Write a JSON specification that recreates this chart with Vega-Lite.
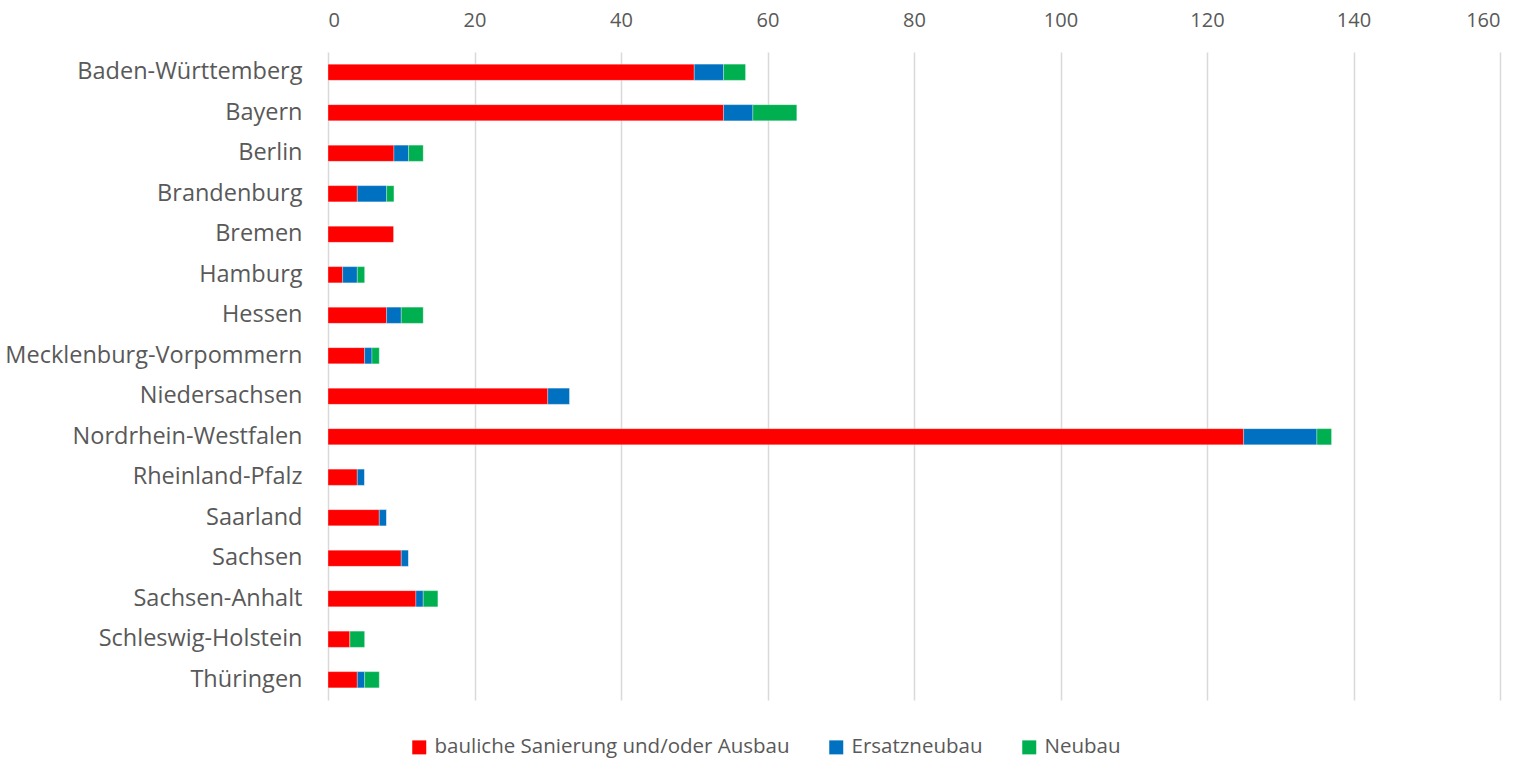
{
  "$schema": "https://vega.github.io/schema/vega-lite/v6.json",
  "autosize": "none",
  "width": 1172,
  "height": 648,
  "padding": {"left": 328, "top": 52, "right": 38, "bottom": 59},
  "background": "white",
  "data": {"values": [
    {"land": "Baden-Württemberg", "typ": "bauliche Sanierung und/oder Ausbau", "anzahl": 50},
    {"land": "Baden-Württemberg", "typ": "Ersatzneubau", "anzahl": 4},
    {"land": "Baden-Württemberg", "typ": "Neubau", "anzahl": 3},
    {"land": "Bayern", "typ": "bauliche Sanierung und/oder Ausbau", "anzahl": 54},
    {"land": "Bayern", "typ": "Ersatzneubau", "anzahl": 4},
    {"land": "Bayern", "typ": "Neubau", "anzahl": 6},
    {"land": "Berlin", "typ": "bauliche Sanierung und/oder Ausbau", "anzahl": 9},
    {"land": "Berlin", "typ": "Ersatzneubau", "anzahl": 2},
    {"land": "Berlin", "typ": "Neubau", "anzahl": 2},
    {"land": "Brandenburg", "typ": "bauliche Sanierung und/oder Ausbau", "anzahl": 4},
    {"land": "Brandenburg", "typ": "Ersatzneubau", "anzahl": 4},
    {"land": "Brandenburg", "typ": "Neubau", "anzahl": 1},
    {"land": "Bremen", "typ": "bauliche Sanierung und/oder Ausbau", "anzahl": 9},
    {"land": "Bremen", "typ": "Ersatzneubau", "anzahl": 0},
    {"land": "Bremen", "typ": "Neubau", "anzahl": 0},
    {"land": "Hamburg", "typ": "bauliche Sanierung und/oder Ausbau", "anzahl": 2},
    {"land": "Hamburg", "typ": "Ersatzneubau", "anzahl": 2},
    {"land": "Hamburg", "typ": "Neubau", "anzahl": 1},
    {"land": "Hessen", "typ": "bauliche Sanierung und/oder Ausbau", "anzahl": 8},
    {"land": "Hessen", "typ": "Ersatzneubau", "anzahl": 2},
    {"land": "Hessen", "typ": "Neubau", "anzahl": 3},
    {"land": "Mecklenburg-Vorpommern", "typ": "bauliche Sanierung und/oder Ausbau", "anzahl": 5},
    {"land": "Mecklenburg-Vorpommern", "typ": "Ersatzneubau", "anzahl": 1},
    {"land": "Mecklenburg-Vorpommern", "typ": "Neubau", "anzahl": 1},
    {"land": "Niedersachsen", "typ": "bauliche Sanierung und/oder Ausbau", "anzahl": 30},
    {"land": "Niedersachsen", "typ": "Ersatzneubau", "anzahl": 3},
    {"land": "Niedersachsen", "typ": "Neubau", "anzahl": 0},
    {"land": "Nordrhein-Westfalen", "typ": "bauliche Sanierung und/oder Ausbau", "anzahl": 125},
    {"land": "Nordrhein-Westfalen", "typ": "Ersatzneubau", "anzahl": 10},
    {"land": "Nordrhein-Westfalen", "typ": "Neubau", "anzahl": 2},
    {"land": "Rheinland-Pfalz", "typ": "bauliche Sanierung und/oder Ausbau", "anzahl": 4},
    {"land": "Rheinland-Pfalz", "typ": "Ersatzneubau", "anzahl": 1},
    {"land": "Rheinland-Pfalz", "typ": "Neubau", "anzahl": 0},
    {"land": "Saarland", "typ": "bauliche Sanierung und/oder Ausbau", "anzahl": 7},
    {"land": "Saarland", "typ": "Ersatzneubau", "anzahl": 1},
    {"land": "Saarland", "typ": "Neubau", "anzahl": 0},
    {"land": "Sachsen", "typ": "bauliche Sanierung und/oder Ausbau", "anzahl": 10},
    {"land": "Sachsen", "typ": "Ersatzneubau", "anzahl": 1},
    {"land": "Sachsen", "typ": "Neubau", "anzahl": 0},
    {"land": "Sachsen-Anhalt", "typ": "bauliche Sanierung und/oder Ausbau", "anzahl": 12},
    {"land": "Sachsen-Anhalt", "typ": "Ersatzneubau", "anzahl": 1},
    {"land": "Sachsen-Anhalt", "typ": "Neubau", "anzahl": 2},
    {"land": "Schleswig-Holstein", "typ": "bauliche Sanierung und/oder Ausbau", "anzahl": 3},
    {"land": "Schleswig-Holstein", "typ": "Ersatzneubau", "anzahl": 0},
    {"land": "Schleswig-Holstein", "typ": "Neubau", "anzahl": 2},
    {"land": "Thüringen", "typ": "bauliche Sanierung und/oder Ausbau", "anzahl": 4},
    {"land": "Thüringen", "typ": "Ersatzneubau", "anzahl": 1},
    {"land": "Thüringen", "typ": "Neubau", "anzahl": 2}
  ]},
  "transform": [
    {"calculate": "indexof(['bauliche Sanierung und/oder Ausbau', 'Ersatzneubau', 'Neubau'], datum.typ)", "as": "reihenfolge"}
  ],
  "mark": {"type": "bar", "stroke": "white", "strokeWidth": 0.5, "strokeOpacity": 0.6},
  "encoding": {
    "y": {
      "field": "land", "type": "nominal", "sort": null,
      "scale": {"paddingInner": 0.6, "paddingOuter": 0.3},
      "axis": {"title": null, "domain": false, "ticks": false, "labelFontSize": 23.5, "labelColor": "#595959", "labelFont": "Open Sans", "labelPadding": 26, "labelLimit": 400}
    },
    "x": {
      "field": "anzahl", "type": "quantitative", "stack": "zero",
      "scale": {"domain": [0, 160], "nice": false},
      "axis": {"orient": "top", "title": null, "values": [0, 20, 40, 60, 80, 100, 120, 140, 160], "domain": false, "ticks": false, "grid": true, "gridColor": "#d9d9d9", "gridWidth": 1.5, "labelFontSize": 20, "labelColor": "#595959", "labelFont": "Open Sans", "labelPadding": 22}
    },
    "color": {
      "field": "typ", "type": "nominal",
      "scale": {"domain": ["bauliche Sanierung und/oder Ausbau", "Ersatzneubau", "Neubau"], "range": ["#FF0000", "#0070C0", "#00B050"]},
      "legend": {"title": null, "orient": "none", "legendX": 81, "legendY": 685, "direction": "horizontal", "symbolType": "square", "symbolSize": 196, "symbolStrokeWidth": 0, "labelFontSize": 20.5, "labelColor": "#595959", "labelFont": "Open Sans", "labelLimit": 600, "columnPadding": 36, "labelOffset": 5}
    },
    "order": {"field": "reihenfolge", "type": "quantitative", "sort": "ascending"}
  },
  "config": {"view": {"stroke": null}}
}
